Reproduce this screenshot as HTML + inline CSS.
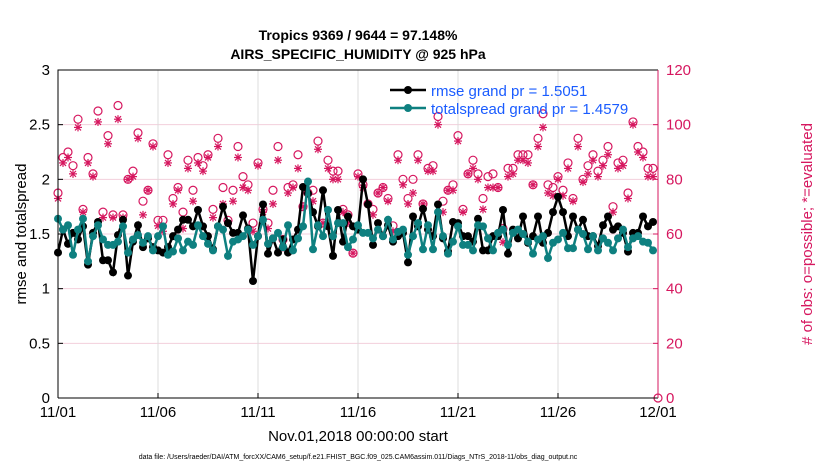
<!DOCTYPE html>
<html><head><meta charset="utf-8"><style>
body{margin:0;background:#fff;}
svg text{font-family:"Liberation Sans",Arial,sans-serif;}
</style></head><body>
<svg id="chart" width="830" height="470" viewBox="0 0 830 470" xmlns="http://www.w3.org/2000/svg">
<rect x="0" y="0" width="830" height="470" fill="#fff"/>
<g id="grid"></g>
<g id="series"></g>
<g id="axes"></g>
<text x="358" y="40" font-size="14" font-weight="bold" text-anchor="middle">Tropics 9369 / 9644 = 97.148%</text>
<text x="358" y="59" font-size="14" font-weight="bold" text-anchor="middle">AIRS_SPECIFIC_HUMIDITY @ 925 hPa</text>
<text x="358" y="441" font-size="15" text-anchor="middle">Nov.01,2018 00:00:00 start</text>
<text transform="translate(26,234) rotate(-90)" font-size="15" text-anchor="middle">rmse and totalspread</text>
<text x="358" y="459" font-size="7" text-anchor="middle">data file: /Users/raeder/DAI/ATM_forcXX/CAM6_setup/f.e21.FHIST_BGC.f09_025.CAM6assim.011/Diags_NTrS_2018-11/obs_diag_output.nc</text>
<g>
  <line x1="390" y1="90" x2="426" y2="90" stroke="#000" stroke-width="2.5"/>
  <circle cx="408" cy="90" r="4" fill="#000"/>
  <text x="431" y="96" font-size="15" fill="#1a5cff">rmse grand pr = 1.5051</text>
  <line x1="390" y1="108" x2="426" y2="108" stroke="#0e8080" stroke-width="2.5"/>
  <circle cx="408" cy="108" r="4" fill="#0e8080"/>
  <text x="431" y="114" font-size="15" fill="#1a5cff">totalspread grand pr = 1.4579</text>
</g>
<script>
const dateLabels=["11/01","11/06","11/11","11/16","11/21","11/26","12/01"];
const leftTicks=[0,0.5,1,1.5,2,2.5,3];
const rightTicks=[0,20,40,60,80,100,120];
const rmse=[1.33,1.54,1.41,1.51,1.45,1.57,1.22,1.51,1.61,1.26,1.26,1.15,1.49,1.63,1.12,1.43,1.58,1.38,1.46,1.38,1.35,1.33,1.38,1.48,1.54,1.63,1.63,1.57,1.72,1.57,
1.48,1.36,1.57,1.75,1.60,1.51,1.51,1.67,1.55,1.07,1.48,1.77,1.32,1.46,1.33,1.45,1.33,1.45,1.54,1.93,1.87,1.70,1.57,1.90,1.57,1.30,1.72,1.43,1.66,1.57,
1.54,2.00,1.77,1.40,1.60,1.48,1.58,1.43,1.48,1.51,1.24,1.66,1.57,1.73,1.54,1.48,1.77,1.46,1.34,1.61,1.60,1.48,1.48,1.43,1.64,1.35,1.35,1.48,1.48,1.72,
1.32,1.54,1.46,1.66,1.42,1.48,1.66,1.42,1.51,1.70,1.84,1.70,1.48,1.66,1.54,1.63,1.48,1.48,1.39,1.58,1.66,1.54,1.57,1.51,1.34,1.51,1.51,1.66,1.57,1.61];
const spread=[1.64,1.54,1.58,1.31,1.54,1.64,1.25,1.48,1.58,1.45,1.40,1.40,1.43,1.57,1.33,1.45,1.49,1.42,1.48,1.35,1.48,1.57,1.31,1.34,1.46,1.35,1.43,1.40,1.58,1.48,
1.41,1.35,1.57,1.54,1.30,1.43,1.45,1.48,1.54,1.40,1.48,1.63,1.41,1.46,1.51,1.38,1.58,1.35,1.46,1.57,1.98,1.36,1.58,1.48,1.72,1.48,1.60,1.60,1.38,1.45,
1.58,1.51,1.51,1.46,1.54,1.48,1.63,1.45,1.52,1.54,1.31,1.48,1.60,1.36,1.58,1.36,1.70,1.48,1.32,1.43,1.57,1.40,1.40,1.35,1.58,1.57,1.46,1.35,1.51,1.54,
1.40,1.51,1.54,1.50,1.43,1.32,1.45,1.48,1.28,1.42,1.45,1.51,1.37,1.37,1.54,1.50,1.36,1.48,1.35,1.46,1.42,1.35,1.46,1.54,1.38,1.46,1.48,1.43,1.42,1.35];
const possible=[75,88,90,85,102,69,88,82,105,68,96,67,107,67,80,83,97,72,76,93,65,65,89,73,77,68,87,76,88,85,
89,69,95,77,65,76,92,81,78,64,86,69,64,76,92,58,77,78,89,70,75,76,94,64,87,83,83,69,67,53,
82,78,71,69,75,77,73,63,89,80,73,80,89,71,84,85,103,72,76,78,96,69,82,87,82,73,81,82,77,62,
84,84,89,89,89,78,95,104,78,77,81,76,86,73,95,80,85,89,83,87,92,70,86,87,75,101,92,90,84,84,0];
const evaluated=[73,86,88,82,99,68,86,81,101,66,93,66,102,66,80,81,95,67,76,92,63,61,86,71,76,62,84,72,86,83,
88,66,92,71,64,72,88,77,76,61,85,68,62,71,87,55,75,77,84,70,75,72,91,64,84,80,80,68,64,53,
81,77,71,67,75,77,72,61,87,78,71,75,87,71,83,83,100,68,76,76,94,68,82,84,80,69,77,77,77,57,
81,82,87,87,86,78,92,99,75,74,80,74,84,72,92,79,82,87,81,85,89,68,84,85,73,100,90,88,81,81];
const X0=58,X1=658,Y0=398,Y1=70;
const xs=i=>X0+(X1-X0)*(i*0.25)/30;
const yl=v=>Y0-(Y0-Y1)*v/3;
const yr=v=>Y0-(Y0-Y1)*v/120;
const NS="http://www.w3.org/2000/svg";
function mk(tag,attrs,parent){const e=document.createElementNS(NS,tag);for(const k in attrs)e.setAttribute(k,attrs[k]);parent.appendChild(e);return e;}
const grid=document.getElementById('grid'),ser=document.getElementById('series'),ax=document.getElementById('axes');
const MAG="#d6175f";
rightTicks.forEach(t=>{if(t>0&&t<120){const l=mk('line',{x1:X0,x2:X1,y1:yr(t),y2:yr(t),stroke:"#f3cfdc","stroke-width":1},grid);

}});
dateLabels.forEach((d,k)=>{const x=X0+(X1-X0)*k/6;
if(k>0&&k<6){const l=mk('line',{x1:x,x2:x,y1:Y1,y2:Y0,stroke:"#dcdcdc","stroke-width":1},grid);

}
const t=mk('text',{x:x,y:Y0+19,"font-size":15,"text-anchor":"middle"},ax);t.textContent=d;


mk('line',{x1:x,x2:x,y1:Y0,y2:Y0-5,stroke:"#000"},ax);});
leftTicks.forEach(v=>{const t=mk('text',{x:X0-8,y:yl(v)+5,"font-size":15,"text-anchor":"end"},ax);t.textContent=String(v);


mk('line',{x1:X0,x2:X0+5,y1:yl(v),y2:yl(v),stroke:"#000"},ax);});
rightTicks.forEach(v=>{const t=mk('text',{x:X1+8,y:yr(v)+5,"font-size":15,fill:MAG},ax);t.textContent=String(v);


mk('line',{x1:X1,x2:X1-5,y1:yr(v),y2:yr(v),stroke:MAG},ax);});
mk('path',{d:`M${X0},${Y0}V${Y1}H${X1}`,fill:"none",stroke:"#000","stroke-width":1},ax);
mk('line',{x1:X0,x2:X1,y1:Y0,y2:Y0,stroke:"#000"},ax);
mk('line',{x1:X1,x2:X1,y1:Y0,y2:Y1,stroke:MAG},ax);
possible.forEach((v,i)=>{const c=mk('circle',{cx:xs(i),cy:yr(v),r:4,fill:"none",stroke:MAG,"stroke-width":1.2},ser);

});
evaluated.forEach((v,i)=>{const x=xs(i),y=yr(v);const g=mk('g',{stroke:MAG,"stroke-width":1.2},ser);


mk('line',{x1:x-4,x2:x+4,y1:y,y2:y},g);mk('line',{x1:x,x2:x,y1:y-4,y2:y+4},g);
mk('line',{x1:x-3,x2:x+3,y1:y-3,y2:y+3},g);mk('line',{x1:x-3,x2:x+3,y1:y+3,y2:y-3},g);});
function series(arr,col,name){const p=mk('polyline',{points:arr.map((v,i)=>xs(i)+","+yl(v)).join(" "),fill:"none",stroke:col,"stroke-width":2.5},ser);


arr.forEach((v,i)=>{const c=mk('circle',{cx:xs(i),cy:yl(v),r:4,fill:col},ser);

});}
series(rmse,"#000","rmse");
series(spread,"#0e8080","totalspread");
const rt=mk('text',{transform:"translate(812,234) rotate(-90)","font-size":15,"text-anchor":"middle",fill:MAG},ax);
rt.textContent="# of obs: o=possible; *=evaluated";


</script>
</svg>
</body></html>
